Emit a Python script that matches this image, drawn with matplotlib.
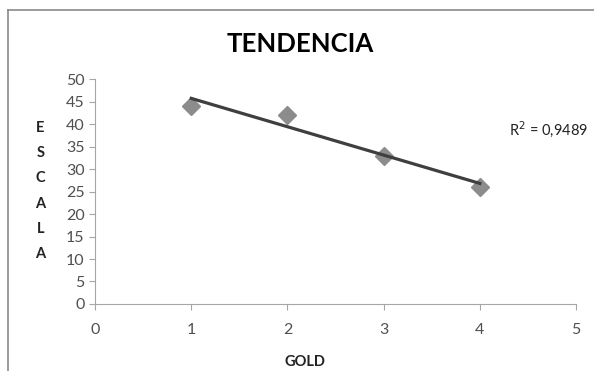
import numpy as np
import matplotlib
matplotlib.use("Agg")
import matplotlib.pyplot as plt
from matplotlib.lines import Line2D

plt.rcParams['font.family'] = ['Lato', 'DejaVu Sans']

# data
gold = [1, 2, 3, 4]
escala = [44, 42, 33, 26]
r2_label = "R$^2$ = 0,9489"

fig = plt.figure(figsize=(5.94, 3.71), dpi=100)
ax = fig.add_axes([0.16, 0.1806, 0.8097, 0.6064])

# scatter points
ax.plot(gold, escala, linestyle='none', marker='D', markersize=9,
        color='#8c8c8c', zorder=3)

# linear trend line
slope, icept = np.polyfit(gold, escala, 1)
xs = np.array([min(gold), max(gold)])
ax.plot(xs, slope*xs + icept, color='#3f3f3f', linewidth=2.3, zorder=4)

ax.set_xlim(0, 5)
ax.set_ylim(0, 50)
ax.set_xticks(range(0, 6))
ax.set_yticks(range(0, 51, 5))
for side in ['top', 'right']:
    ax.spines[side].set_visible(False)
for side in ['left', 'bottom']:
    ax.spines[side].set_color('#a6a6a6')
ax.tick_params(direction='out', length=4, color='#a6a6a6', labelcolor='#505050',
               labelsize=11.5)
ax.tick_params(axis='x', pad=10)

fig.text(0.505, 0.882, "TENDENCIA", ha='center', va='center',
         fontsize=18.5, fontweight='bold', color='black')
fig.text(0.514, 0.024, "GOLD", ha='center', va='center',
         fontsize=10.5, fontweight='bold', color='#222222')
fig.text(0.068, 0.485, "E\nS\nC\nA\nL\nA", ha='center', va='center',
         fontsize=10.5, fontweight='bold', color='#222222', linespacing=2.02)
fig.text(0.857, 0.653, r2_label, ha='left', va='center',
         fontsize=10.5, color='#222222')

# outer frame of the chart area
fig.add_artist(Line2D([0.0135, 0.0135], [0.0, 0.973], transform=fig.transFigure,
                      color='#8a8a8a', linewidth=1.2))
fig.add_artist(Line2D([0.0135, 1.0], [0.973, 0.973], transform=fig.transFigure,
                      color='#8a8a8a', linewidth=1.2))

fig.savefig("out.png", dpi=100)
